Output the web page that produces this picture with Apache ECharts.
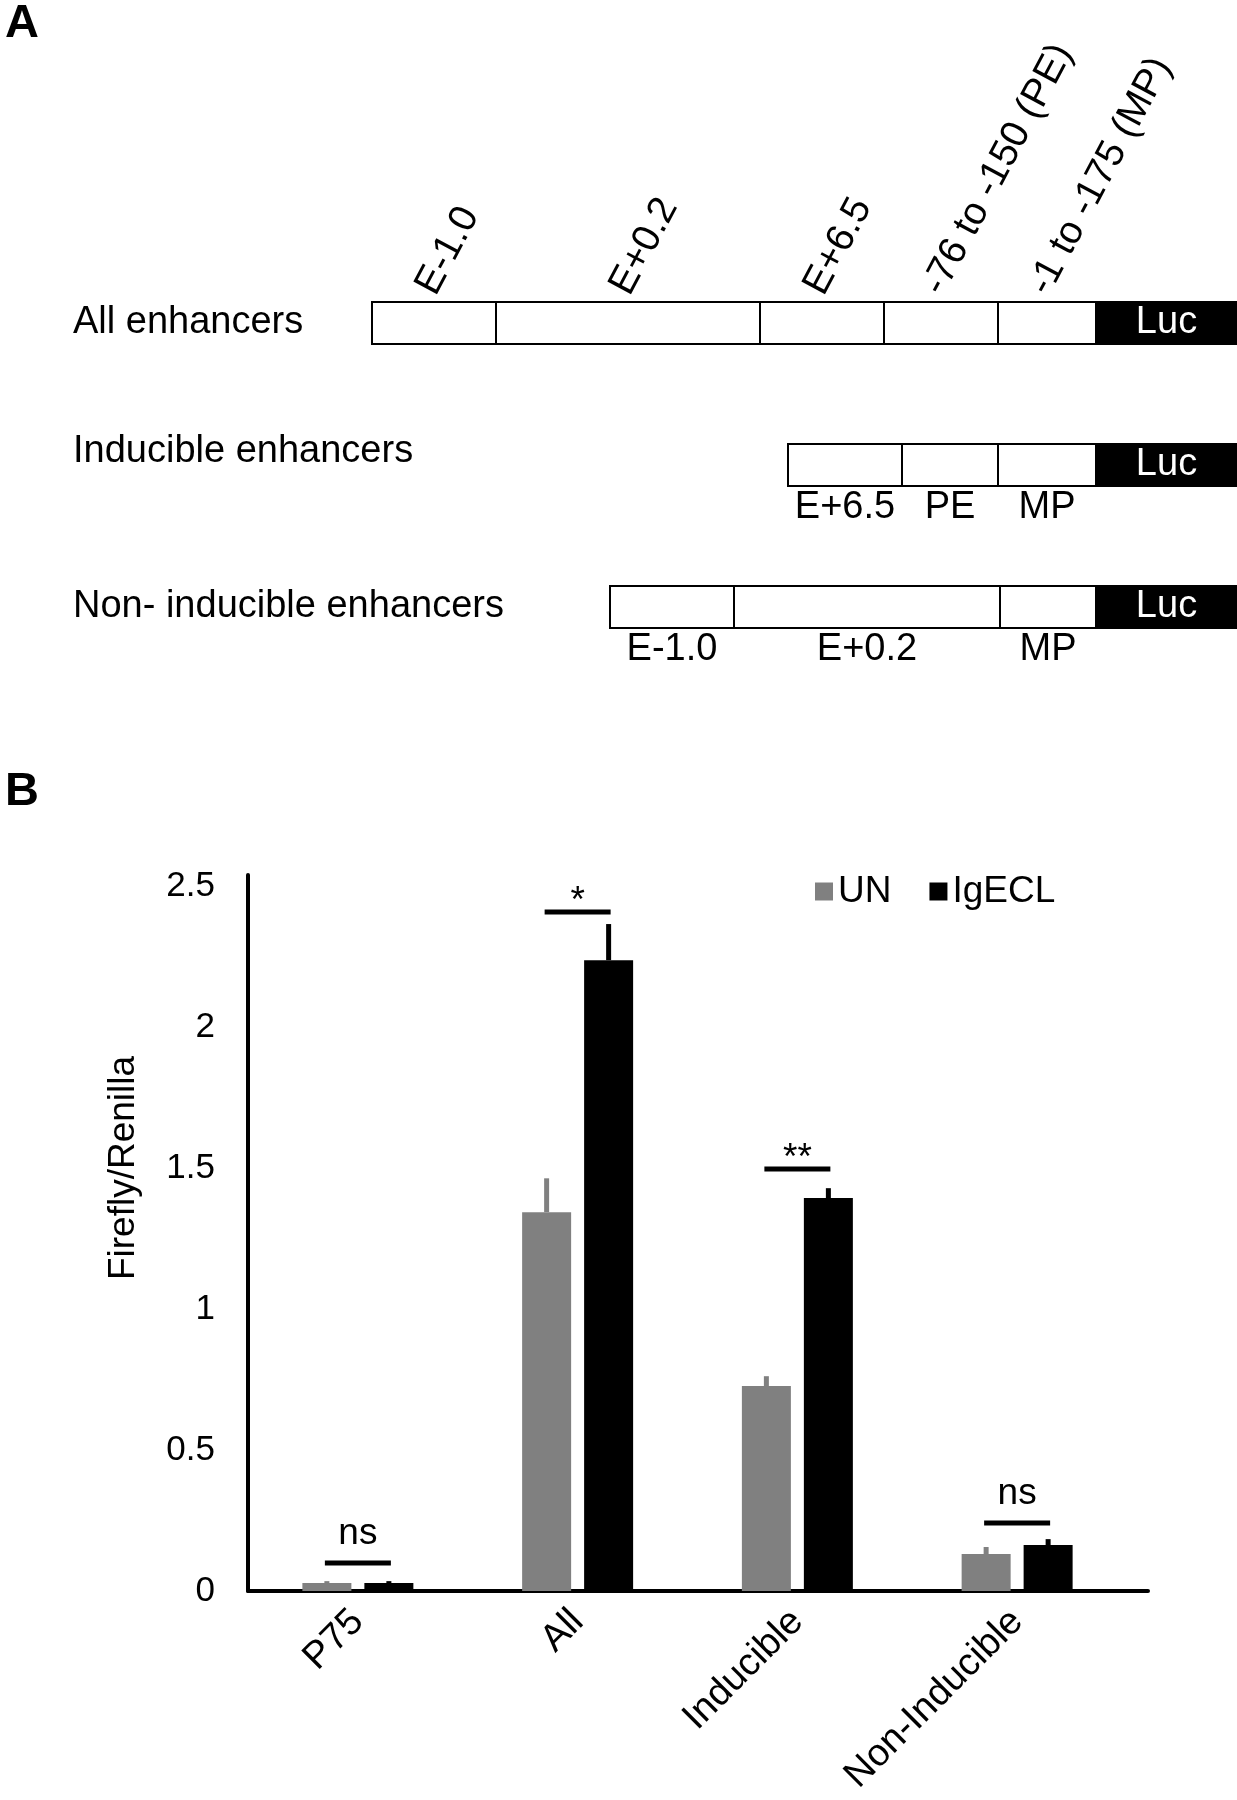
<!DOCTYPE html>
<html>
<head>
<meta charset="utf-8">
<script src="https://cdn.jsdelivr.net/npm/echarts@6/dist/echarts.min.js"></script>
<style>
  body { margin: 0; background: #fff; }
  #main { width: 1237px; height: 1800px; }
</style>
</head>
<body>
<div id="main"></div>
<script>
var FONT = "'Liberation Sans', Arial, sans-serif";

// panel A: constructs, segment names and schematic lengths (right aligned on Luc)
var rowNames = ['All enhancers', 'Inducible enhancers', 'Non- inducible enhancers'];
var rowSegments = [
    ['E-1.0', 'E+0.2', 'E+6.5', '-76 to -150 (PE)', '-1 to -175 (MP)', 'Luc'],
    ['E+6.5', 'PE', 'MP', 'Luc'],
    ['E-1.0', 'E+0.2', 'MP', 'Luc']
];
var rowLengths = [
    [124, 264, 124, 114, 98, 141],
    [114, 96, 98, 141],
    [124, 266, 96, 141]
];

// panel B: luciferase ratio
var categories = ['P75', 'All', 'Inducible', 'Non-Inducible'];
var unValues = [0.028, 1.344, 0.727, 0.131];
var unErrors = [0.007, 0.12, 0.035, 0.025];
var igValues = [0.028, 2.238, 1.394, 0.163];
var igErrors = [0.007, 0.128, 0.035, 0.021];
var sigLevels = [0.099, 2.409, 1.497, 0.241];
var sigLabels = ['ns', '*', '**', 'ns'];
var yTicks = [0, 0.5, 1, 1.5, 2, 2.5];

var totalLength = 0;
rowLengths[0].forEach(function (l) { totalLength += l; });

var segmentData = [];
rowLengths.forEach(function (lens, r) {
    var sum = 0;
    lens.forEach(function (l) { sum += l; });
    var start = totalLength - sum;
    lens.forEach(function (l, s) {
        segmentData.push([start, start + l, r, s]);
        start += l;
    });
});

function renderSegment(params, api) {
    var row = api.value(2);
    var name = rowSegments[row][api.value(3)];
    var p0 = api.coord([api.value(0), row]);
    var p1 = api.coord([api.value(1), row]);
    var h = 42;
    var isLuc = name === 'Luc';
    var cx = (p0[0] + p1[0]) / 2;
    var children = [{
        type: 'rect',
        shape: { x: p0[0], y: p0[1] - h / 2, width: p1[0] - p0[0], height: h },
        style: { fill: isLuc ? '#000' : '#fff', stroke: '#000', lineWidth: 2 }
    }];
    if (isLuc) {
        children.push({
            type: 'text', x: cx, y: p0[1],
            style: { text: name, fill: '#fff', fontSize: 38, fontFamily: FONT, align: 'center', verticalAlign: 'middle' }
        });
    } else if (row === 0) {
        // rotated names above the full construct
        children.push({
            type: 'text', x: cx - 8, y: p0[1] - h / 2 - 10, rotation: 62 * Math.PI / 180,
            style: { text: name, fill: '#000', fontSize: 39, fontFamily: FONT, align: 'left', verticalAlign: 'middle' }
        });
    } else {
        children.push({
            type: 'text', x: cx, y: p0[1] + h / 2 + 3,
            style: { text: name, fill: '#000', fontSize: 38, fontFamily: FONT, align: 'center', verticalAlign: 'top' }
        });
    }
    return { type: 'group', children: children };
}

// error bars: only upward, no cap
function errorRenderer(offset, color) {
    return function (params, api) {
        var base = api.coord([api.value(0), api.value(1)]);
        var top = api.coord([api.value(0), api.value(1) + api.value(2)]);
        return {
            type: 'line',
            shape: { x1: base[0] + offset, y1: base[1], x2: base[0] + offset, y2: top[1] },
            style: { stroke: color, lineWidth: 5 }
        };
    };
}

function renderSig(params, api) {
    var i = api.value(0);
    var pt = api.coord([i, api.value(1)]);
    var label = sigLabels[i];
    var star = label.indexOf('*') >= 0;
    return {
        type: 'group',
        children: [
            { type: 'line', shape: { x1: pt[0] - 33, y1: pt[1], x2: pt[0] + 33, y2: pt[1] }, style: { stroke: '#000', lineWidth: 5 } },
            { type: 'text', x: pt[0], y: pt[1] - (star ? 10 : 29),
              style: { text: label, fill: '#000', fontSize: 37, fontFamily: FONT, align: 'center', verticalAlign: 'middle' } }
        ]
    };
}

var myChart = echarts.init(document.getElementById('main'));

myChart.setOption({
    backgroundColor: '#fff',
    animation: false,
    textStyle: { fontFamily: FONT, color: '#000' },
    title: [
        { text: 'A', left: 0, top: -4, textStyle: { fontSize: 47, fontWeight: 'bold', color: '#000', fontFamily: FONT } },
        { text: 'B', left: 0, top: 764, textStyle: { fontSize: 47, fontWeight: 'bold', color: '#000', fontFamily: FONT } }
    ],
    legend: {
        data: ['UN', 'IgECL'],
        left: 810,
        top: 868,
        icon: 'rect',
        itemWidth: 18,
        itemHeight: 18,
        itemGap: 38,
        textStyle: { fontSize: 37, color: '#000', fontFamily: FONT }
    },
    grid: [
        { left: 248, right: 110, top: 875, bottom: 209, outerBoundsMode: 'none' },
        { left: 248, right: 89, top: 875, bottom: 209, outerBoundsMode: 'none' },
        { left: 372, right: 0, top: 252, bottom: 1122, outerBoundsMode: 'none' }
    ],
    xAxis: [
        {
            gridIndex: 0,
            type: 'category',
            data: categories,
            axisLine: { show: false },
            axisTick: { show: false },
            axisLabel: { rotate: 45, fontSize: 38, color: '#000', margin: 25, fontFamily: FONT }
        },
        {
            gridIndex: 1,
            type: 'value',
            min: 0,
            max: 1,
            axisLine: { show: true, lineStyle: { color: '#000', width: 4 } },
            axisTick: { show: false },
            axisLabel: { show: false },
            splitLine: { show: false }
        },
        { gridIndex: 2, type: 'value', min: 0, max: totalLength, show: false }
    ],
    yAxis: [
        {
            gridIndex: 0,
            type: 'value',
            min: 0,
            max: 2.54,
            interval: 0.5,
            name: 'Firefly/Renilla',
            nameLocation: 'middle',
            nameGap: 106,
            nameTextStyle: { fontSize: 37, color: '#000', fontFamily: FONT, padding: [0, 0, 0, 130] },
            axisLine: { show: true, lineStyle: { color: '#000', width: 4 } },
            axisTick: { show: false },
            splitLine: { show: false },
            axisLabel: {
                fontSize: 35, color: '#000', margin: 33, fontFamily: FONT,
                formatter: function (v) {
                    for (var i = 0; i < yTicks.length; i++) {
                        if (Math.abs(yTicks[i] - v) < 1e-6) return String(yTicks[i]);
                    }
                    return '';
                }
            }
        },
        { gridIndex: 1, type: 'value', show: false },
        {
            gridIndex: 2,
            type: 'category',
            data: rowNames.map(function (n, i) {
                // the middle row name sits a little above its box
                return i === 1 ? { value: n, textStyle: { align: 'left', verticalAlign: 'bottom', lineHeight: 26 } } : n;
            }),
            inverse: true,
            axisLine: { show: false },
            axisTick: { show: false },
            axisLabel: { align: 'left', margin: 299, fontSize: 38, color: '#000', fontFamily: FONT }
        }
    ],
    series: [
        {
            name: 'UN',
            type: 'bar',
            xAxisIndex: 0,
            yAxisIndex: 0,
            data: unValues,
            barWidth: 49,
            barGap: '26.5%',
            itemStyle: { color: '#808080' }
        },
        {
            name: 'IgECL',
            type: 'bar',
            xAxisIndex: 0,
            yAxisIndex: 0,
            data: igValues,
            barWidth: 49,
            barGap: '26.5%',
            itemStyle: { color: '#000' }
        },
        {
            type: 'custom',
            xAxisIndex: 0,
            yAxisIndex: 0,
            renderItem: errorRenderer(-31, '#808080'),
            data: unValues.map(function (v, i) { return [i, v, unErrors[i]]; }),
            z: 3
        },
        {
            type: 'custom',
            xAxisIndex: 0,
            yAxisIndex: 0,
            renderItem: errorRenderer(31, '#000'),
            data: igValues.map(function (v, i) { return [i, v, igErrors[i]]; }),
            z: 3
        },
        {
            type: 'custom',
            xAxisIndex: 0,
            yAxisIndex: 0,
            renderItem: renderSig,
            data: sigLevels.map(function (v, i) { return [i, v]; }),
            z: 3
        },
        {
            type: 'custom',
            xAxisIndex: 2,
            yAxisIndex: 2,
            renderItem: renderSegment,
            encode: { x: [0, 1], y: 2 },
            data: segmentData
        }
    ]
});
</script>
</body>
</html>
